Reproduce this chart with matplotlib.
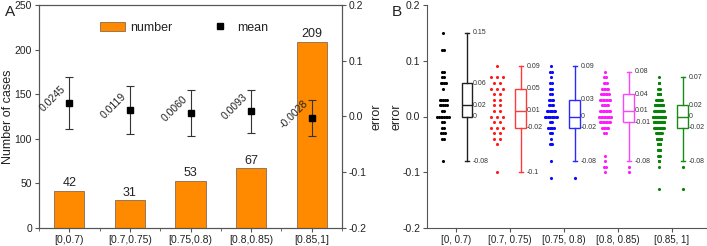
import numpy as np
import matplotlib.pyplot as plt
from matplotlib.lines import Line2D
from matplotlib.patches import Patch

plt.rcParams['font.family'] = ['Liberation Sans', 'DejaVu Sans']

# ---------------- data: panel A ----------------
categories_A = ['[0,0.7)', '[0.7,0.75)', '[0.75,0.8)', '[0.8,0.85)', '[0.85,1]']
numbers = [42, 31, 53, 67, 209]
means = [0.0245, 0.0119, 0.0060, 0.0093, -0.0028]
mean_labels = ['0.0245', '0.0119', '0.0060', '0.0093', '-0.0028']
sds = [0.047, 0.043, 0.041, 0.039, 0.032]

# ---------------- data: panel B ----------------
categories_B = ['[0, 0.7)', '[0.7, 0.75)', '[0.75, 0.8)', '[0.8, 0.85)', '[0.85, 1]']
g1_vals = [0.15, 0.12, 0.08, 0.07, 0.06, 0.05, 0.03, 0.02, 0.01, 0.00, -0.01, -0.02, -0.03, -0.04, -0.08]
g1_counts = [1, 2, 2, 2, 4, 1, 5, 5, 2, 8, 2, 2, 3, 2, 1]
g2_vals = [0.09, 0.07, 0.06, 0.05, 0.04, 0.03, 0.02, 0.01, 0.00, -0.01, -0.02, -0.03, -0.04, -0.05, -0.10]
g2_counts = [1, 3, 2, 3, 2, 2, 2, 2, 3, 2, 3, 2, 2, 1, 1]
g3_vals = [0.09, 0.08, 0.07, 0.06, 0.05, 0.04, 0.03, 0.02, 0.01, 0.00, -0.01, -0.02, -0.03, -0.04, -0.05, -0.08, -0.11]
g3_counts = [1, 2, 1, 2, 3, 2, 4, 4, 7, 10, 3, 5, 3, 1, 3, 1, 1]
g4_vals = [0.08, 0.07, 0.06, 0.05, 0.04, 0.03, 0.02, 0.01, 0.00, -0.01, -0.02, -0.03, -0.07, -0.08, -0.09, -0.10]
g4_counts = [1, 2, 3, 5, 6, 8, 5, 8, 9, 8, 5, 2, 1, 1, 2, 1]
g5_vals = [0.07, 0.06, 0.05, 0.04, 0.03, 0.02, 0.01, 0.00, -0.01, -0.02, -0.03, -0.04, -0.05, -0.06, -0.07, -0.08, -0.09, -0.13]
g5_counts = [1, 3, 5, 8, 14, 22, 25, 31, 26, 25, 14, 12, 8, 6, 4, 3, 1, 1]
group_vals = [g1_vals, g2_vals, g3_vals, g4_vals, g5_vals]
group_counts = [g1_counts, g2_counts, g3_counts, g4_counts, g5_counts]

box_whishi = [0.15, 0.09, 0.09, 0.08, 0.07]
box_q3 = [0.06, 0.05, 0.03, 0.04, 0.02]
box_med = [0.02, 0.01, 0.00, 0.01, 0.00]
box_q1 = [0.00, -0.02, -0.02, -0.01, -0.02]
box_whislo = [-0.08, -0.10, -0.08, -0.08, -0.08]
box_fliers = [[], [], [-0.11], [-0.09, -0.10], [-0.09, -0.13]]

dot_colors = ['#000000', '#ff1a1a', '#0a0aff', '#ff1aff', '#0a820a']
box_colors = ['#202020', '#ff3a3a', '#2a2aff', '#ff44ff', '#178a17']

# ---------------- figure ----------------
W, H = 707, 246
fig = plt.figure(figsize=(W / 100, H / 100), dpi=100)

spine_c = '#555555'
text_c = '#222222'

# ---------- Panel A ----------
axA = fig.add_axes([39 / W, 18 / H, 303 / W, 223 / H])
x = np.arange(1, len(categories_A) + 1)
axA.bar(x, numbers, width=0.5, color='#ff8a00', edgecolor='#8a6a50', linewidth=0.6, zorder=2)
for xi, n in zip(x, numbers):
    axA.text(xi, n + 1.5, str(n), ha='center', va='bottom', fontsize=9, color=text_c)
axA.set_xlim(0.5, 5.5)
axA.set_ylim(0, 250)
axA.set_yticks([0, 50, 100, 150, 200, 250])
axA.set_xticks(x)
axA.set_xticklabels(categories_A, fontsize=7, color=text_c)
axA.set_xticks(np.arange(0.5, 6.0, 1.0), minor=True)
axA.tick_params(axis='x', which='minor', length=2.5, direction='out', color=spine_c)
axA.tick_params(axis='both', which='major', length=3, direction='out', color=spine_c, labelsize=7.5,
                labelcolor=text_c, pad=2)
axA.set_ylabel('Number of cases', fontsize=9, color=text_c)
axA.yaxis.set_label_coords((14 - 39) / 303, 0.5)
for s in axA.spines.values():
    s.set_color(spine_c)
    s.set_linewidth(0.8)

axA2 = axA.twinx()
axA2.set_ylim(-0.2, 0.2)
axA2.set_yticks([-0.2, -0.1, 0.0, 0.1, 0.2])
axA2.set_yticklabels(['-0.2', '-0.1', '0.0', '0.1', '0.2'])
axA2.tick_params(axis='y', length=3, direction='out', color=spine_c, labelsize=7.5, labelcolor=text_c, pad=2)
axA2.errorbar(x, means, yerr=sds, fmt='s', color='black', markersize=4, ecolor='#333333',
              elinewidth=0.8, capsize=3, capthick=0.8, zorder=3)
for xi, m, lab in zip(x, means, mean_labels):
    axA2.annotate(lab, (xi, m), xytext=(-1, 3), textcoords='offset points', rotation=45,
                  ha='right', va='center', fontsize=7.5, color=text_c)
axA2.set_ylabel('error', fontsize=9, color=text_c)
axA2.yaxis.set_label_coords((370 - 39) / 303, 0.5)
for s in axA2.spines.values():
    s.set_color(spine_c)
    s.set_linewidth(0.8)

handles = [Patch(facecolor='#ff8a00', edgecolor='#8a6a50', linewidth=0.6),
           Line2D([], [], marker='s', color='black', linestyle='none', markersize=4)]
axA2.legend(handles, ['number', 'mean'], loc='center', bbox_to_anchor=(0.48, 0.897), ncol=2,
            frameon=False, fontsize=9, handlelength=2.0, handleheight=0.8, columnspacing=2.8,
            handletextpad=0.4, labelcolor=text_c)

fig.text(5 / W, 1 - 12 / H, 'A', fontsize=11, va='center', ha='left', color=text_c)

# ---------- Panel B ----------
axB = fig.add_axes([427 / W, 18 / H, 280 / W, 223 / H])
xb = np.arange(1, len(categories_B) + 1)
row_span = 0.22
for i, (vals, cnts) in enumerate(zip(group_vals, group_counts)):
    nmax = max(cnts)
    step = row_span / (nmax - 1) if nmax > 1 else 0
    cx = xb[i] - 0.24
    px, py = [], []
    for v, c in zip(vals, cnts):
        for k in range(c):
            px.append(cx + (k - (c - 1) / 2) * step)
            py.append(v)
    axB.scatter(px, py, s=5, color=dot_colors[i], linewidths=0, zorder=3)

stats = []
for i in range(len(xb)):
    stats.append(dict(med=box_med[i], q1=box_q1[i], q3=box_q3[i], whislo=box_whislo[i],
                      whishi=box_whishi[i], fliers=box_fliers[i]))
bpos = xb + 0.2
for i in range(len(xb)):
    c = box_colors[i]
    axB.bxp([stats[i]], positions=[bpos[i]], widths=0.2, capwidths=0.08, patch_artist=True,
            boxprops=dict(facecolor='white', edgecolor=c, linewidth=1.0),
            medianprops=dict(color=c, linewidth=1.0),
            whiskerprops=dict(color=c, linewidth=1.0),
            capprops=dict(color=c, linewidth=1.0),
            flierprops=dict(marker='o', markersize=2.3, markerfacecolor=dot_colors[i],
                            markeredgecolor='none'))
    for v in [box_whishi[i], box_q3[i], box_med[i], box_q1[i], box_whislo[i]]:
        axB.text(bpos[i] + 0.105, v, f'{v:g}', fontsize=5, ha='left', va='center', color='#333333')

axB.set_xlim(0.46, 5.65)
axB.set_ylim(-0.2, 0.2)
axB.set_yticks([-0.2, -0.1, 0.0, 0.1, 0.2])
axB.set_yticklabels(['-0.2', '-0.1', '0.0', '0.1', '0.2'])
axB.set_xticks(xb)
axB.set_xticklabels(categories_B, fontsize=7, color=text_c)
axB.tick_params(axis='both', length=3, direction='out', color=spine_c, labelsize=7.5,
                labelcolor=text_c, pad=2)
axB.tick_params(axis='x', labelsize=7)
axB.spines['top'].set_visible(False)
axB.spines['right'].set_visible(False)
for s in ['left', 'bottom']:
    axB.spines[s].set_color(spine_c)
    axB.spines[s].set_linewidth(0.8)
axB.set_ylabel('error', fontsize=9, color=text_c)
axB.yaxis.set_label_coords((403 - 427) / 280, 0.5)
fig.text(392 / W, 1 - 12 / H, 'B', fontsize=11, va='center', ha='left', color=text_c)

fig.savefig('out.png', dpi=100)
